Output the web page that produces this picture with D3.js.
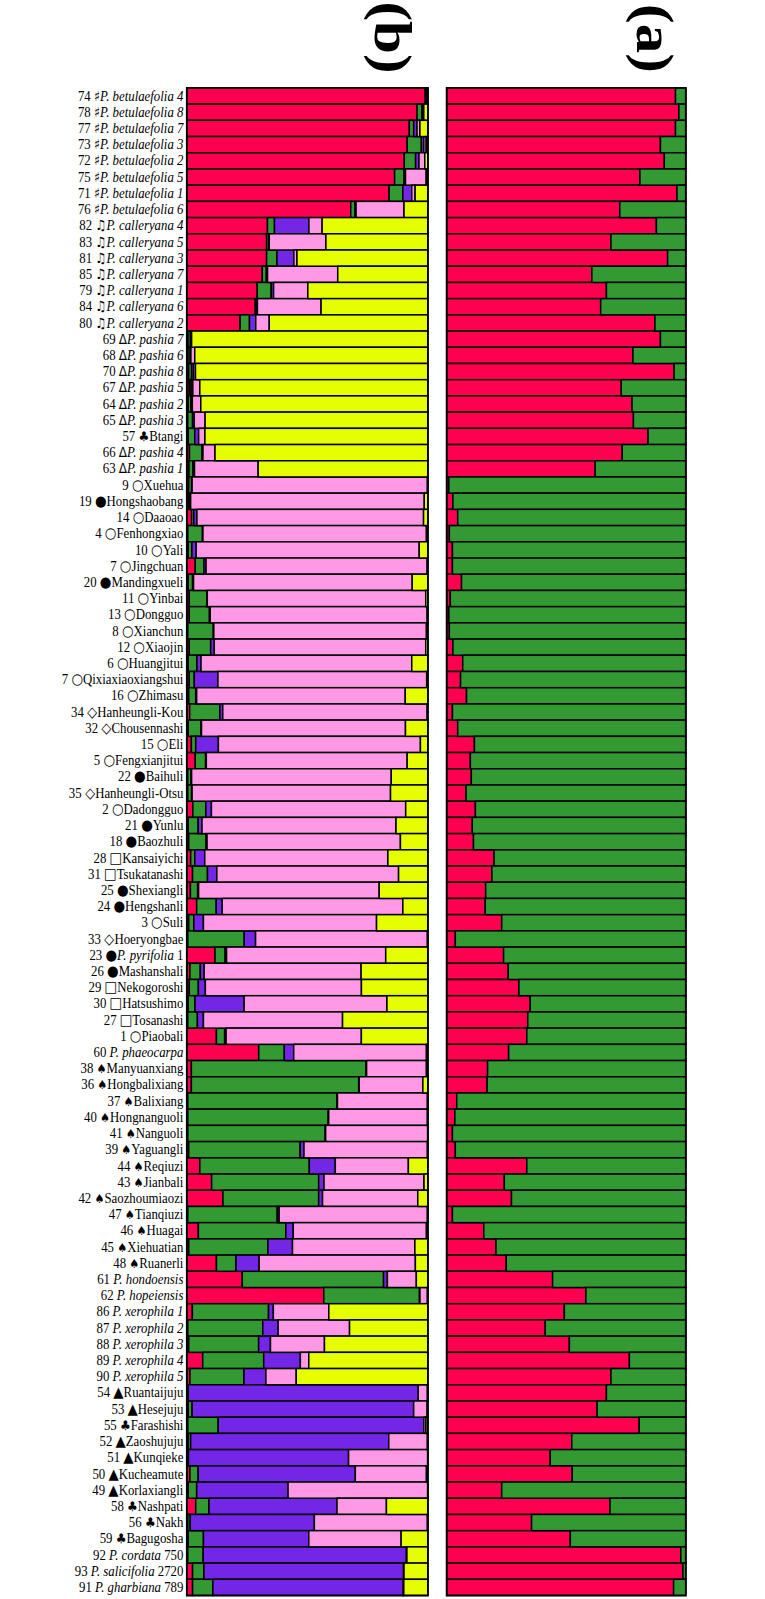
<!DOCTYPE html>
<html><head><meta charset="utf-8">
<style>html,body{margin:0;padding:0;background:#fff}svg{display:block}</style>
<script src="https://cdn.jsdelivr.net/npm/d3@7"></script></head><body>
<script>
const rowLabels=["74 ♯P. betulaefolia 4","78 ♯P. betulaefolia 8","77 ♯P. betulaefolia 7","73 ♯P. betulaefolia 3","72 ♯P. betulaefolia 2","75 ♯P. betulaefolia 5","71 ♯P. betulaefolia 1","76 ♯P. betulaefolia 6",
"82 ♫P. calleryana 4","83 ♫P. calleryana 5","81 ♫P. calleryana 3","85 ♫P. calleryana 7","79 ♫P. calleryana 1","84 ♫P. calleryana 6","80 ♫P. calleryana 2",
"69 ΔP. pashia 7","68 ΔP. pashia 6","70 ΔP. pashia 8","67 ΔP. pashia 5","64 ΔP. pashia 2","65 ΔP. pashia 3","57 ♣Btangi","66 ΔP. pashia 4","63 ΔP. pashia 1",
"9 ○Xuehua","19 ●Hongshaobang","14 ○Daaoao","4 ○Fenhongxiao","10 ○Yali","7 ○Jingchuan","20 ●Mandingxueli","11 ○Yinbai","13 ○Dongguo","8 ○Xianchun","12 ○Xiaojin","6 ○Huangjitui","7 ○Qixiaxiaoxiangshui","16 ○Zhimasu","34 ◇Hanheungli-Kou","32 ◇Chousennashi","15 ○Eli","5 ○Fengxianjitui","22 ●Baihuli","35 ◇Hanheungli-Otsu","2 ○Dadongguo","21 ●Yunlu","18 ●Baozhuli","28 □Kansaiyichi","31 □Tsukatanashi","25 ●Shexiangli","24 ●Hengshanli","3 ○Suli","33 ◇Hoeryongbae","23 ●P. pyrifolia 1","26 ●Mashanshali","29 □Nekogoroshi","30 □Hatsushimo","27 □Tosanashi","1 ○Piaobali","60 P. phaeocarpa",
"38 ♠Manyuanxiang","36 ♠Hongbalixiang","37 ♠Balixiang","40 ♠Hongnanguoli","41 ♠Nanguoli","39 ♠Yaguangli","44 ♠Reqiuzi","43 ♠Jianbali","42 ♠Saozhoumiaozi","47 ♠Tianqiuzi","46 ♠Huagai","45 ♠Xiehuatian","48 ♠Ruanerli","61 P. hondoensis","62 P. hopeiensis",
"86 P. xerophila 1","87 P. xerophila 2","88 P. xerophila 3","89 P. xerophila 4","90 P. xerophila 5","54 ▲Ruantaijuju","53 ▲Hesejuju","55 ♣Farashishi","52 ▲Zaoshujuju","51 ▲Kunqieke","50 ▲Kucheamute","49 ▲Korlaxiangli","58 ♣Nashpati","56 ♣Nakh","59 ♣Bagugosha","92 P. cordata 750","93 P. salicifolia 2720","91 P. gharbiana 789"];

const bRed=[98.9,95.5,92.3,91.4,90.2,86.2,83.9,68.0,33.5,33.1,33.1,31.3,29.2,28.4,22.1,
.5,.5,.8,1.0,.6,.4,.6,1.1,.9,
.8,.7,2.0,.4,.6,3.5,.6,1.0,1.0,.4,1.0,.6,1.0,.8,1.2,.6,1.9,3.5,.4,.4,2.5,.6,.8,1.6,2.4,1.5,4.1,.8,.4,11.7,1.3,1.0,.6,.4,12.3,29.8,
1.9,1.9,.4,.4,.4,.8,5.4,10.3,15.0,.4,4.8,.8,12.3,23.0,56.8,
2.3,.4,.8,6.6,1.3,.4,.6,.4,.6,.4,1.3,.6,3.7,.4,.6,.4,2.4,2.4];
const bGreen=[.5,2.0,1.8,5.9,4.7,3.9,5.7,1.8,2.9,.8,4.3,1.7,5.8,.5,3.9,
1.0,.9,1.2,.8,1.1,2.0,2.7,5.2,1.7,
1.2,.5,.9,6.1,1.5,3.6,1.8,7.3,8.4,10.6,8.9,3.6,2.1,2.9,12.5,5.3,1.8,4.3,1.4,1.6,5.4,4.1,7.2,1.7,6.2,3.0,8.1,2.1,23.4,4.2,4.3,3.8,2.8,4.0,3.4,10.6,
72.4,69.4,61.9,58.2,57.0,46.2,45.4,44.4,39.7,37.1,36.3,32.8,8.1,58.6,39.7,
31.6,31.1,29.0,25.3,22.4,.2,1.6,12.6,1.0,.3,3.4,3.5,5.5,1.0,6.3,6.4,4.7,8.4];
const bPurple=[.2,.5,1.4,1.0,1.4,.6,3.7,.4,14.3,.3,7.0,.5,1.0,.4,2.6,
.2,.3,.8,.7,.6,.7,1.6,.4,.6,
.2,.4,1.3,.2,1.8,.9,.4,.2,.3,.2,1.5,1.7,9.8,.4,1.2,.2,9.4,.3,.2,.2,2.3,1.6,.4,4.1,3.9,.4,2.5,4.0,4.7,.6,1.6,2.9,20.4,2.5,.6,3.9,
.2,.2,.2,.2,.2,1.6,10.8,2.2,1.6,.8,3.1,10.2,9.6,1.6,.2,
2.0,6.4,4.9,15.2,9.1,95.4,91.9,85.2,82.5,66.4,65.2,37.9,53.1,51.4,43.7,84.3,82.8,79.0];
const bPink=[.2,.3,1.2,1.0,2.4,8.6,1.4,19.9,5.5,23.5,1.3,29.1,14.2,26.4,5.6,
.3,1.6,.8,2.9,3.5,4.5,2.6,5.0,26.4,
97.6,96.8,94.0,92.7,92.5,91.8,90.6,90.5,90.0,88.2,87.7,87.4,86.6,86.6,84.7,84.6,83.8,83.3,82.8,82.3,80.5,80.4,80.2,75.5,75.6,74.9,74.9,71.8,71.2,66.0,65.1,64.8,59.3,57.7,56.1,55.0,
24.8,26.4,37.3,40.9,42.3,51.2,30.3,41.5,39.5,61.5,55.3,50.7,64.8,12.0,3.1,
23.0,29.6,22.4,3.5,12.6,3.8,5.6,.9,16.1,32.8,29.5,57.9,20.5,46.8,38.3,.2,.2,.2];
const bYellow=[.2,1.7,3.3,.7,1.3,.7,5.3,9.9,43.9,42.3,54.3,37.4,49.8,44.3,65.8,
98.0,96.6,96.4,94.6,94.2,92.4,92.3,88.3,70.4,
.2,1.5,1.8,.6,3.6,.3,6.5,.9,.3,.6,.9,6.7,.5,9.4,.3,9.3,3.1,8.6,15.2,15.5,9.2,13.2,11.4,16.5,12.2,20.2,10.4,21.3,.2,17.5,27.7,27.6,17.0,35.4,27.6,.6,
.6,2.1,.2,.2,.1,.2,8.1,1.6,4.2,.2,.6,5.4,5.2,4.8,.2,
41.1,32.5,42.9,49.4,54.6,.2,.3,.8,.2,.1,.6,.1,17.2,.2,11.1,8.7,9.9,10.0];

const aRed=[95.7,97.1,95.7,89.4,91.0,80.8,96.3,72.4,87.7,68.7,92.4,60.7,66.8,64.4,87.1,
89.4,77.9,95.1,73.0,77.5,78.1,84.2,73.4,62.1,
.9,2.6,4.6,1.1,2.4,2.4,6.2,1.5,.9,1.1,2.6,6.7,5.8,8.3,2.4,4.6,11.6,9.9,10.3,8.1,12.0,10.7,11.2,19.8,18.9,16.3,16.1,23.0,3.6,23.8,25.7,30.2,34.9,33.9,33.5,25.9,
17.1,16.9,4.2,3.4,2.4,3.6,33.5,24.1,27.1,2.4,15.5,20.6,24.9,44.3,58.2,
49.2,41.2,51.3,76.4,68.7,66.8,62.9,80.5,52.3,43.3,52.5,23.0,68.3,35.5,51.7,97.9,98.8,94.9];
const aGreen=[4.3,2.9,4.3,10.6,9.0,19.2,3.7,27.6,12.3,31.3,7.6,39.3,33.2,35.6,12.9,
10.6,22.1,4.9,27.0,22.5,21.9,15.8,26.6,37.9,
99.1,97.4,95.4,98.9,97.6,97.6,93.8,98.5,99.1,98.9,97.4,93.3,94.2,91.7,97.6,95.4,88.4,90.1,89.7,91.9,88.0,89.3,88.8,80.2,81.1,83.7,83.9,77.0,96.4,76.2,74.3,69.8,65.1,66.1,66.5,74.1,
82.9,83.1,95.8,96.6,97.6,96.4,66.5,75.9,72.9,97.6,84.5,79.4,75.1,55.7,41.8,
50.8,58.8,48.7,23.6,31.3,33.2,37.1,19.5,47.7,56.7,47.5,77.0,31.7,64.5,48.3,2.1,1.2,5.1];

const bKeys=["red","green","purple","pink","yellow"];
const colors={red:"#ff0050",green:"#339933",purple:"#7326e6",pink:"#ff99e6",yellow:"#e6ff00"};
const panelTitles=["(b)","(a)"];

const chartW=765,chartH=1599;
const yTop=87.9,yBottom=1595.5;
const svg=d3.select("body").append("svg").attr("width",chartW).attr("height",chartH);
const y=d3.scaleBand().domain(rowLabels).range([yTop,yBottom]);

function tableOf(series){return rowLabels.map((l,i)=>{const o={label:l};for(const k in series)o[k]=series[k][i];return o;});}

function panel(x0,x1,keys,series,title,titleX,titleY){
  const x=d3.scaleLinear().domain([0,1]).range([x0,x1]);
  const stack=d3.stack().keys(keys).offset(d3.stackOffsetExpand)(tableOf(series));
  const g=svg.append("g");
  g.selectAll("g.s").data(stack).join("g").attr("class","s").attr("fill",d=>colors[d.key])
   .selectAll("rect").data(d=>d).join("rect")
   .attr("x",d=>x(d[0])).attr("width",d=>x(d[1])-x(d[0]))
   .attr("y",d=>y(d.data.label)).attr("height",y.bandwidth())
   .attr("stroke","#000").attr("stroke-width",1.5);
  g.append("rect").attr("x",x0).attr("y",yTop).attr("width",x1-x0).attr("height",yBottom-yTop)
   .attr("fill","none").attr("stroke","#000").attr("stroke-width",1.8);
  svg.append("text").text(title)
   .attr("transform",`translate(${titleX},${titleY}) rotate(90) scale(1,.9)`)
   .attr("text-anchor","middle").attr("font-family","'Liberation Serif',serif").attr("font-weight","bold")
   .attr("font-size",59);
}
panel(186.8,427.9,bKeys,{red:bRed,green:bGreen,purple:bPurple,pink:bPink,yellow:bYellow},panelTitles[0],375,37.5);
panel(446.7,685.8,["red","green"],{red:aRed,green:aGreen},panelTitles[1],637,38.5);

// row labels from a band-scale axis; species names in italics
const axis=svg.append("g").attr("transform","translate(186.8,0)")
  .call(d3.axisLeft(y).tickSize(0).tickPadding(3.4));
axis.select(".domain").remove();
const re=/^(\d+ )([^\sA-Za-z]?)(.*)$/;
const wild=/betulaefolia|calleryana|pashia|xerophila/;
const symbolSize={"○":15,"●":15,"◇":15,"□":15,"▲":15,"♫":14,"♠":12.5,"♣":13.5,"♯":14,"Δ":13.6};
axis.selectAll(".tick text").each(function(d){
  const t=d3.select(this).attr("font-family","'Liberation Serif','DejaVu Sans',serif").attr("font-size",14.4).attr("fill","#000")
    .attr("x",0).attr("transform","translate(-3.4,0) scale(.89,1)").text(null);
  const m=re.exec(d);
  t.append("tspan").text(m[1]);
  if(m[2])t.append("tspan").attr("font-family","'DejaVu Sans'").attr("font-size",symbolSize[m[2]]).text(m[2]);
  const sp=/^(P\. [a-z]+)(.*)$/.exec(m[3]);
  if(!sp){t.append("tspan").text(m[3]);return;}
  if(wild.test(sp[1])){t.append("tspan").attr("font-style","italic").text(m[3]);return;}
  t.append("tspan").attr("font-style","italic").text(sp[1]);
  if(sp[2])t.append("tspan").text(sp[2]);
});
</script></body></html>
